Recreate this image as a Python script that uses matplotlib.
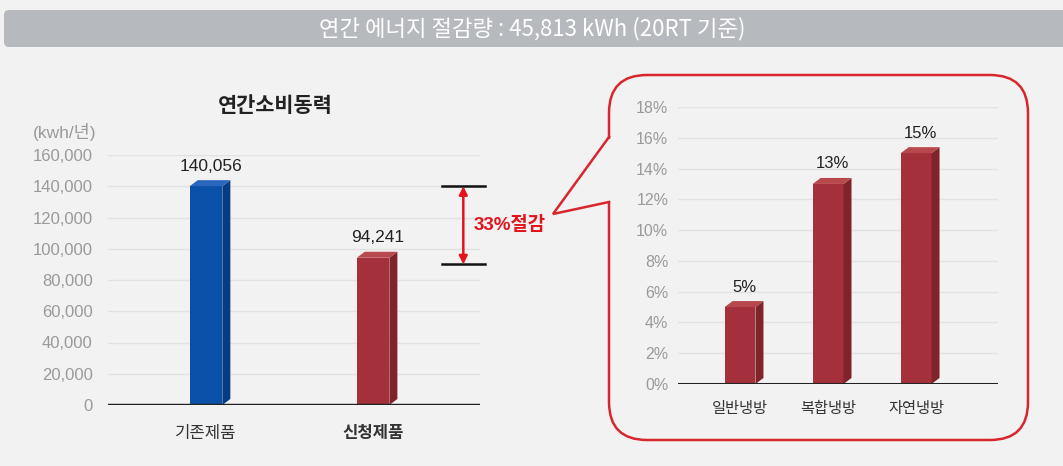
import matplotlib.pyplot as plt
from matplotlib.patches import Polygon, FancyBboxPatch, Rectangle

plt.rcParams['font.family'] = ['Liberation Sans', 'Noto Sans CJK KR', 'DejaVu Sans']

# data
banner_text = "연간 에너지 절감량 : 45,813 kWh (20RT 기준)"
left_title = "연간소비동력"
left_unit = "(kwh/년)"
products = ["기존제품", "신청제품"]
power = [140056, 94241]
power_labels = ["140,056", "94,241"]
left_ticks = [0, 20000, 40000, 60000, 80000, 100000, 120000, 140000, 160000]
saving_text = "33%절감"
saving_range = [140000, 90000]

methods = ["일반냉방", "복합냉방", "자연냉방"]
rates = [5, 13, 15]
right_ticks = [0, 2, 4, 6, 8, 10, 12, 14, 16, 18]

W, H = 1063, 466
BG = "#f2f2f2"
fig = plt.figure(figsize=(W / 100, H / 100), dpi=100, facecolor=BG)

# overlay in pixel coords
ov = fig.add_axes([0, 0, 1, 1], zorder=0)
ov.set_xlim(0, W)
ov.set_ylim(H, 0)
ov.axis("off")
ov.add_patch(FancyBboxPatch((4, 10), W, 37, boxstyle="round,pad=0,rounding_size=5",
                            fc="#b6babe", ec="none"))
ov.text(532, 29, banner_text, color="white", fontsize=16, ha="center", va="center",
        family=["Noto Sans CJK KR"])
ov.text(275, 106, left_title, fontsize=15, fontweight="bold", ha="center", va="center",
        color="#222222", family=["Noto Sans CJK KR"])
ov.text(65, 132, left_unit, fontsize=12.5, ha="center", va="center", color="#9a9a9a")

# callout box
ov.add_patch(FancyBboxPatch((609, 75), 419, 365, boxstyle="round,pad=0,rounding_size=38",
                            fc="none", ec="#d8262e", lw=1.8))
ov.plot([609, 609], [139, 201], color=BG, lw=4, solid_capstyle="butt")
ov.plot([609, 553, 609], [137, 214, 202], color="#d8262e", lw=1.8, solid_joinstyle="miter")


def px_to_data(ax, dx_px, dy_px):
    bb = ax.get_position()
    x0, x1 = ax.get_xlim()
    y0, y1 = ax.get_ylim()
    return (dx_px * (x1 - x0) / (bb.width * W), dy_px * (y1 - y0) / (bb.height * H))


def bar3d(ax, x, h, w, front, side, top, depth=8, rise=6):
    dx, dy = px_to_data(ax, depth, rise)
    l, r = x - w / 2, x + w / 2
    ax.add_patch(Rectangle((l, 0), w, h, fc=front, ec="none", zorder=3))
    ax.add_patch(Polygon([(r, 0), (r + dx, dy), (r + dx, h + dy), (r, h)],
                         closed=True, fc=side, ec="none", zorder=3))
    ax.add_patch(Polygon([(l, h), (l + dx, h + dy), (r + dx, h + dy), (r, h)],
                         closed=True, fc=top, ec="none", zorder=3))


def style(ax):
    ax.set_facecolor("none")
    for s in ax.spines.values():
        s.set_visible(False)
    ax.tick_params(length=0)
    ax.grid(axis="y", color="#e2e2e2", lw=1)
    ax.set_axisbelow(True)


# left chart
axL = fig.add_axes([108 / W, 1 - 405 / H, 372 / W, 250 / H], zorder=1)
style(axL)
axL.set_xlim(-0.587, 1.64)
axL.set_ylim(0, 160000)
axL.set_yticks(left_ticks, [f"{t:,}" for t in left_ticks])
axL.tick_params(axis="y", labelsize=12, labelcolor="#9a9a9a", pad=11)
axL.set_xticks(range(len(products)), products)
axL.tick_params(axis="x", labelsize=12, labelcolor="#333333", pad=15)
axL.get_xticklabels()[1].set_fontweight("bold")
axL.axhline(0, color="#222222", lw=2.5, zorder=4)
colorsL = [("#0b50a8", "#073c84", "#2a66bb"), ("#a3303a", "#80232a", "#b7484d")]
for i, v in enumerate(power):
    bar3d(axL, i, v, 0.195, *colorsL[i])
    axL.annotate(power_labels[i], (i + 0.027, v), xytext=(0, 9), textcoords="offset points",
                 ha="center", va="bottom", fontsize=12.5, color="#222222")

# saving bracket
bx = 1.54
for y in saving_range:
    axL.plot([bx - 0.13, bx + 0.13], [y, y], color="#111111", lw=1.8, clip_on=False, zorder=4)
axL.annotate("", xy=(bx, saving_range[0]), xytext=(bx, saving_range[1]),
             arrowprops=dict(arrowstyle="<|-|>", color="#e3141c", lw=1.8, mutation_scale=12,
                             shrinkA=0, shrinkB=0), annotation_clip=False)
axL.text(bx + 0.06, sum(saving_range) / 2, saving_text, color="#e3141c", fontsize=13.5,
         fontweight="bold", ha="left", va="center", clip_on=False)

# right chart
axR = fig.add_axes([678 / W, 1 - 384 / H, 320 / W, 277 / H], zorder=1)
style(axR)
axR.set_xlim(-0.705, 2.93)
axR.set_ylim(0, 18)
axR.set_yticks(right_ticks, [f"{t}%" for t in right_ticks])
axR.tick_params(axis="y", labelsize=11.5, labelcolor="#9a9a9a", pad=7)
axR.set_xticks(range(len(methods)), methods)
axR.tick_params(axis="x", labelsize=11, labelcolor="#333333", pad=13)
axR.axhline(0, color="#222222", lw=2.2, zorder=4)
for i, v in enumerate(rates):
    bar3d(axR, i, v, 0.35, "#a3303a", "#80232a", "#b7484d")
    axR.annotate(f"{v}%", (i + 0.05, v), xytext=(0, 9), textcoords="offset points",
                 ha="center", va="bottom", fontsize=12, color="#222222")

fig.savefig("out.png", dpi=100, facecolor=BG)
